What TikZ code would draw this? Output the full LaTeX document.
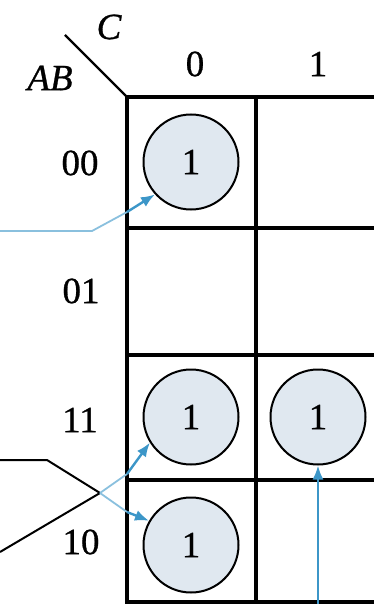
\documentclass[tikz,border=0pt]{standalone}
\usepackage{fontspec}
\setmainfont{Liberation Serif}[FakeBold=0.8]
\usetikzlibrary{arrows.meta}
\definecolor{arrblue}{RGB}{60,150,200}
\definecolor{cfill}{RGB}{224,232,240}
\begin{document}
\begin{tikzpicture}[x=1pt,y=-1pt,
  grid/.style={line width=3.6pt,black},
  onecirc/.style={circle,draw=black,line width=2pt,fill=cfill,minimum size=95pt,inner sep=0pt,font=\fontsize{37}{37}\selectfont},
  lbl/.style={font=\fontsize{37}{37}\selectfont,inner sep=0pt},
  ilbl/.style={font=\fontsize{37}{37}\selectfont\itshape,inner sep=0pt},
  blk/.style={line width=2pt,black},
  barr/.style={line width=2.4pt,arrblue,-{Latex[length=14pt,width=11pt]}},
  bline/.style={line width=1.8pt,arrblue!60}]
\useasboundingbox (0,0) rectangle (374,604);
% grid
\draw[grid] (127,97) -- (374,97);
\draw[grid] (127,228) -- (374,228);
\draw[grid] (127,355) -- (374,355);
\draw[grid] (127,480) -- (374,480);
\draw[grid] (127,602) -- (374,602);
\draw[grid] (127,95) -- (127,604);
\draw[grid] (256,97) -- (256,604);
\draw[line width=2.4pt] (65,35) -- (127,97);
% labels
\node[ilbl] (lc) at (109,27) {C};
\node[ilbl] (lab) at (50,78) {AB};
\node[lbl] (c0) at (195,64) {0};
\node[lbl] (c1) at (318,64) {1};
\node[lbl] (r00) at (80,163) {00};
\node[lbl] (r01) at (81,291) {01};
\node[lbl] (r11) at (80,420) {11};
\node[lbl] (r10) at (81,542) {10};
% circles
\node[onecirc] (m0) at (191,162) {1};
\node[onecirc] (m6) at (191,417) {1};
\node[onecirc] (m7) at (318,417) {1};
\node[onecirc] (m4) at (191,545) {1};
% connectors
\coordinate (a0) at (0,231);
\coordinate (a1) at (92,231);
\coordinate (a2) at (127,212);
\draw[bline] (a0) -- (a1) -- (a2);
\draw[barr] (a2) -- (m0.222);
\coordinate (b0) at (0,460);
\coordinate (b1) at (47,460);
\coordinate (bv) at (100,493);
\coordinate (b2) at (0,552);
\draw[blk] (b0) -- (b1) -- (bv) -- (b2);
\draw[bline] (bv) -- (127,474);
\draw[barr] (127,474) -- (m6.212);
\draw[bline] (bv) -- (127,512);
\draw[barr] (127,512) -- (m4.150);
\coordinate (v0) at (318,604);
\draw[barr] (v0) -- (m7.south);
\end{tikzpicture}
\end{document}
